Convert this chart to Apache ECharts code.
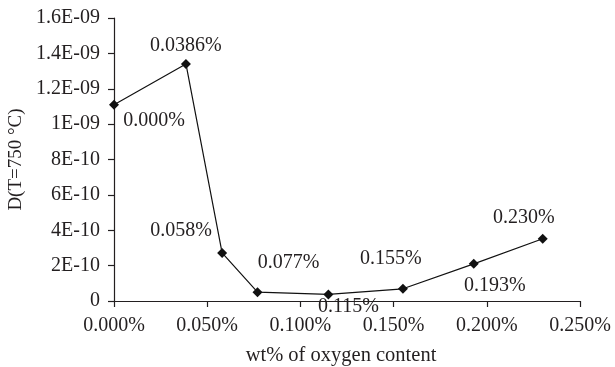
<!DOCTYPE html>
<html>
<head>
<meta charset="utf-8">
<script src="https://cdn.jsdelivr.net/npm/echarts@6/dist/echarts.min.js"></script>
<style>
  html, body { margin: 0; padding: 0; background: #fff; }
  #chart { width: 615px; height: 367px; }
</style>
</head>
<body>
<div id="chart"></div>
<script>
// Oxygen content (wt%) and diffusion coefficient D at 750 °C
const oxygenWt = [0.000, 0.0386, 0.058, 0.077, 0.115, 0.155, 0.193, 0.230];
const diffusion = [1.11e-9, 1.34e-9, 2.72e-10, 5.0e-11, 3.7e-11, 6.9e-11, 2.1e-10, 3.52e-10];
const xTicks = [0, 0.05, 0.10, 0.15, 0.20, 0.25];
const yTicks = [0, 2e-10, 4e-10, 6e-10, 8e-10, 1e-9, 1.2e-9, 1.4e-9, 1.6e-9];

// label placement around each point (px)
const labelOffsets = [[40, 16], [0, -18], [-41, -22], [31, -29], [20, 12], [-12, -30], [21, 22], [-19, -21]];

const ink = '#231f20';
const serif = '"Liberation Serif", "DejaVu Serif", serif';

function pctLabel(v) {
  const s3 = v.toFixed(3);
  return (Math.abs(parseFloat(s3) - v) > 1e-9 ? v.toFixed(4) : s3) + '%';
}

function sciLabel(v) {
  if (Math.abs(v) < 1e-20) return '0';
  const exp = Math.floor(Math.log10(v) + 1e-9);
  const mant = Math.round(v / Math.pow(10, exp) * 10) / 10;
  const e = Math.abs(exp);
  return String(mant) + 'E' + (exp < 0 ? '-' : '+') + (e < 10 ? '0' + e : e);
}

const points = oxygenWt.map((x, i) => ({
  value: [x, diffusion[i]],
  label: { offset: labelOffsets[i] }
}));

const chart = echarts.init(document.getElementById('chart'), null, { renderer: 'canvas' });
chart.setOption({
  animation: false,
  backgroundColor: '#fff',
  grid: { left: 114, right: 35, top: 18, bottom: 66, containLabel: false, outerBoundsMode: 'none' },
  xAxis: {
    type: 'value',
    min: xTicks[0],
    max: xTicks[xTicks.length - 1],
    interval: xTicks[1] - xTicks[0],
    name: 'wt% of oxygen content',
    nameLocation: 'middle',
    nameGap: 44,
    nameTextStyle: { fontFamily: serif, fontSize: 20.5, color: ink, padding: [0, 12, 0, 0] },
    axisLine: { lineStyle: { color: ink, width: 1.2 } },
    axisTick: { show: true, length: 6, lineStyle: { color: ink, width: 1.2 } },
    axisLabel: { fontFamily: serif, fontSize: 20, color: ink, margin: 15, formatter: pctLabel },
    splitLine: { show: false }
  },
  yAxis: {
    type: 'value',
    min: yTicks[0],
    max: yTicks[yTicks.length - 1],
    interval: yTicks[1] - yTicks[0],
    name: 'D(T=750 °C)',
    nameLocation: 'middle',
    nameGap: 84,
    nameRotate: 90,
    nameTextStyle: { fontFamily: serif, fontSize: 19, color: ink },
    axisLine: { show: true, lineStyle: { color: ink, width: 1.2 } },
    axisTick: { show: true, length: 6, lineStyle: { color: ink, width: 1.2 } },
    axisLabel: { fontFamily: serif, fontSize: 20, color: ink, margin: 14, formatter: sciLabel },
    splitLine: { show: false }
  },
  series: [{
    type: 'line',
    data: points,
    symbol: 'diamond',
    symbolSize: 10,
    itemStyle: { color: '#111' },
    lineStyle: { color: '#111', width: 1.2 },
    label: {
      show: true,
      position: 'inside',
      align: 'center',
      verticalAlign: 'middle',
      fontFamily: serif,
      fontSize: 20,
      color: ink,
      formatter: p => pctLabel(p.value[0])
    }
  }]
});
</script>
</body>
</html>
